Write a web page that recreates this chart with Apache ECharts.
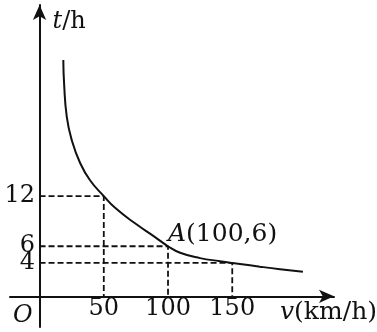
<!DOCTYPE html>
<html><head><meta charset="utf-8">
<script src="https://cdn.jsdelivr.net/npm/echarts@6/dist/echarts.min.js"></script>
<style>html,body{margin:0;padding:0;background:#fff}#c{width:377px;height:332px}</style>
</head><body><div id="c"></div>
<script>
// curve readings (v in km/h, t in h)
var curveV = [18.5, 19.1, 21.2, 25.1, 31.5, 39.3, 50, 58.8, 74.3, 89.9, 100, 109.4, 125, 140.5, 150, 156, 171.6, 187.2, 205];
var curveT = [28.3, 25.5, 21.5, 18.7, 16.0, 13.9, 12, 10.6, 8.75, 7.1, 6, 5.22, 4.58, 4.21, 4, 3.88, 3.55, 3.25, 2.95];
// guide points
var guideV = [50, 100, 150];
var guideT = [12, 6, 4];
var xTicks = [50, 100, 150];
var yTicks = [4, 6, 12];
var pointA = [100, 6];
var pointALabel = '(100,6)';

var FONT = 'DejaVu Serif';
var INK = '#111';
var Y_MIN = -3.67, Y_MAX = 34.89;
var chart = echarts.init(document.getElementById('c'), null, {renderer: 'canvas'});

var curveData = curveV.map(function (v, i) { return [v, curveT[i]]; });
var guideSeries = guideV.map(function (v, i) {
  return {
    type: 'line', silent: true, symbol: 'none', animation: false,
    lineStyle: {color: INK, width: 1.8, type: [6, 3]},
    data: [[0, guideT[i]], [v, guideT[i]], [v, 0]], z: 1
  };
});

var yAxes = [{
  type: 'value', min: Y_MIN, max: Y_MAX,
  splitLine: {show: false}, axisTick: {show: false},
  axisLine: {onZero: true, symbol: ['none', 'arrow'], symbolSize: [10, 15], lineStyle: {color: INK, width: 2}},
  axisLabel: {show: false},
  name: '{i|t}/h', nameLocation: 'end', nameGap: -5,
  nameTextStyle: {color: INK, fontFamily: FONT, fontSize: 24, align: 'left', verticalAlign: 'top', padding: [0, 0, 0, 13],
    rich: {i: {fontStyle: 'italic', fontFamily: FONT, fontSize: 24, color: INK}}}
}].concat(yTicks.map(function (tv) {
  return {
    type: 'value', min: Y_MIN, max: Y_MAX, position: 'left', offset: 0,
    splitLine: {show: false}, axisTick: {show: false}, axisLine: {show: false, onZero: false},
    axisLabel: {customValues: [tv], color: INK, fontFamily: FONT, fontSize: 24, margin: -25, hideOverlap: false,
      showMinLabel: true, showMaxLabel: true}
  };
}));

chart.setOption({
  animation: false,
  grid: {left: 10, right: 43, top: 5, bottom: 5, containLabel: false, outerBoundsMode: 'none'},
  xAxis: {
    type: 'value', min: -23, max: 229.2,
    splitLine: {show: false}, axisTick: {show: false},
    axisLine: {onZero: true, onZeroAxisIndex: 0, symbol: ['none', 'arrow'], symbolSize: [10, 15], lineStyle: {color: INK, width: 2}},
    axisLabel: {customValues: xTicks, color: INK, fontFamily: FONT, fontSize: 24, margin: -30, hideOverlap: false,
      showMinLabel: true, showMaxLabel: true},
    name: '{i|v}(km/h)', nameLocation: 'end', nameGap: 43,
    nameTextStyle: {color: INK, fontFamily: FONT, fontSize: 25, align: 'right', verticalAlign: 'top', padding: [4, 0, 0, 0],
      rich: {i: {fontStyle: 'italic', fontFamily: FONT, fontSize: 25, color: INK}}}
  },
  yAxis: yAxes,
  graphic: [{type: 'text', left: 13, top: 304, style: {text: 'O', fontFamily: FONT, fontStyle: 'italic', fontSize: 24, fill: INK}}],
  series: guideSeries.concat([
    {type: 'line', smooth: true, symbol: 'none', data: curveData, lineStyle: {color: INK, width: 2}, z: 3},
    {type: 'scatter', symbolSize: 0, data: [pointA], z: 4, silent: true,
      itemStyle: {color: INK, opacity: 1},
      label: {show: true, position: [0, -24], align: 'left', formatter: '{i|A}' + pointALabel,
        color: INK, fontFamily: FONT, fontSize: 25, opacity: 1,
        rich: {i: {fontStyle: 'italic', fontFamily: FONT, fontSize: 25, color: INK}}}}
  ])
});
</script></body></html>
